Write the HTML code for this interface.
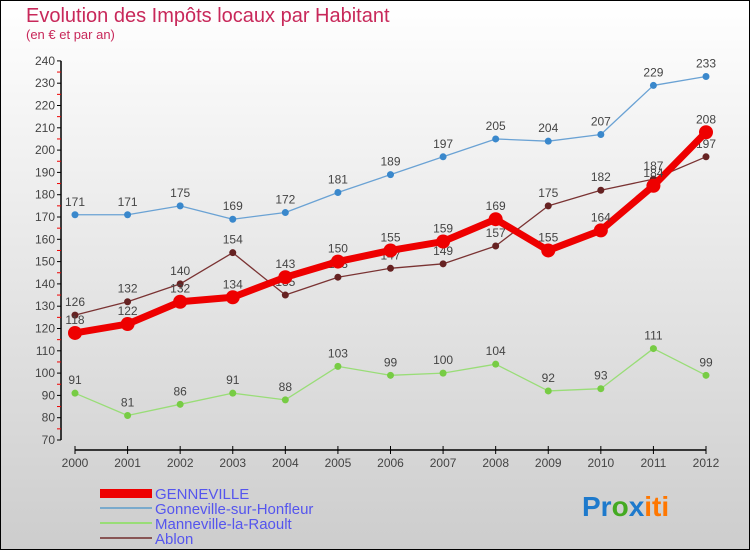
<!DOCTYPE html>
<html><head><meta charset="utf-8"><style>
body{margin:0}
#c{width:750px;height:550px;position:relative;overflow:hidden;font-family:"Liberation Sans",sans-serif}
</style></head><body>
<div id="c">
<svg id="s" width="750" height="550" xmlns="http://www.w3.org/2000/svg">
<defs><linearGradient id="bg" x1="0" y1="0" x2="0" y2="1"><stop offset="0" stop-color="#ffffff"/><stop offset="1" stop-color="#cdcdcd"/></linearGradient></defs>
<rect x="0.5" y="0.5" width="749" height="549" fill="url(#bg)" stroke="#000" stroke-width="1"/>
<text x="26" y="22" font-size="20" fill="#c8285a">Evolution des Impôts locaux par Habitant</text>
<text x="26" y="39" font-size="13" fill="#c8285a">(en € et par an)</text>
<g id="axes"></g><g id="marks"></g>
<g>
<rect x="100" y="489" width="52" height="9" fill="#ee0000"/>
<text x="155" y="499" font-size="15" fill="#5555ee">GENNEVILLE</text>
<rect x="100" y="507" width="52" height="2" fill="#7aaacc"/>
<text x="155" y="514" font-size="15" fill="#5555ee">Gonneville-sur-Honfleur</text>
<rect x="100" y="522" width="52" height="2" fill="#99dd77"/>
<text x="155" y="529" font-size="15" fill="#5555ee">Manneville-la-Raoult</text>
<rect x="100" y="537" width="52" height="2" fill="#885555"/>
<text x="155" y="544" font-size="15" fill="#5555ee">Ablon</text>
</g>
<text x="582" y="516" font-size="28" font-weight="bold"><tspan fill="#1e7acc">Pr</tspan><tspan fill="#44aa22">o</tspan><tspan fill="#1e7acc">x</tspan><tspan fill="#ff7700">iti</tspan></text>
</svg></div>
<script>
const years=[2000,2001,2002,2003,2004,2005,2006,2007,2008,2009,2010,2011,2012];
const yTicks=[70,80,90,100,110,120,130,140,150,160,170,180,190,200,210,220,230,240];
const genneville=[118,122,132,134,143,150,155,159,169,155,164,184,208];
const gonneville=[171,171,175,169,172,181,189,197,205,204,207,229,233];
const manneville=[91,81,86,91,88,103,99,100,104,92,93,111,99];
const ablon=[126,132,140,154,135,143,147,149,157,175,182,187,197];
const NS="http://www.w3.org/2000/svg";
const xs=i=>75+i*(706-75)/(years.length-1);
const ys=v=>440-(v-70)*2.23;
function mk(t,a,p){const e=document.createElementNS(NS,t);for(const k in a)e.setAttribute(k,a[k]);p.appendChild(e);return e;}
const ax=document.getElementById('axes'),mg=document.getElementById('marks');
let e=mk('line',{x1:61,y1:ys(240),x2:61,y2:ys(70),stroke:'#000','stroke-width':1.5},ax);


yTicks.forEach(v=>{
 mk('line',{x1:57,x2:61,y1:ys(v),y2:ys(v),stroke:'#000'},ax);
 if(v<240)mk('line',{x1:57,x2:61,y1:ys(v+5),y2:ys(v+5),stroke:'#e00'},ax);
 const t=mk('text',{x:55,y:ys(v)+4,'font-size':12,fill:'#444','text-anchor':'end'},ax);t.textContent=v;
 
 
});
e=mk('line',{x1:75,y1:450,x2:706,y2:450,stroke:'#000','stroke-width':1.5},ax);


years.forEach((y,i)=>{
 mk('line',{x1:xs(i),x2:xs(i),y1:446,y2:454,stroke:'#000'},ax);
 const t=mk('text',{x:xs(i),y:467,'font-size':12,fill:'#444','text-anchor':'middle'},ax);t.textContent=y;
 
 
});
function series(name,data,color,w,r,dot,lab){
 const g=mk('g',{},mg);
 
 
 const p=mk('polyline',{points:data.map((v,i)=>xs(i)+','+ys(v)).join(' '),fill:'none',stroke:color,'stroke-width':w,'stroke-linejoin':'round'},g);
 
 
 data.forEach((v,i)=>{
  const c=mk('circle',{cx:xs(i),cy:ys(v),r:r,fill:dot},g);
  
  
  const t=mk('text',{x:xs(i),y:ys(v)-9,'font-size':12,fill:'#444','text-anchor':'middle'},g);t.textContent=v;
  
  
 });
}
series('gonneville',gonneville,'#6aa2d4',1.3,3.5,'#3a88cc');
series('manneville',manneville,'#99dd77',1.3,3.5,'#77cc44');
series('ablon',ablon,'#7a3333',1.3,3.5,'#662222');
series('genneville',genneville,'#ee0000',7,7,'#ee0000');
</script>
</body></html>
